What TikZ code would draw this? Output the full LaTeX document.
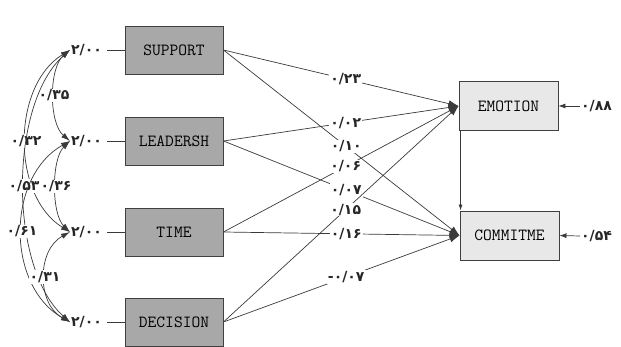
\documentclass[tikz,border=0pt]{standalone}
\usepackage{fontspec}
\usetikzlibrary{arrows.meta,calc}
\newfontfamily\fa{DejaVu Sans}
\definecolor{darkbox}{HTML}{A8A8A8}
\definecolor{lightbox}{HTML}{E8E8E8}
\definecolor{lin}{HTML}{3A3A3A}
\begin{document}
\begin{tikzpicture}[x=1pt,y=-1pt,
  obs/.style={draw=black!75, line width=0.9pt, fill=darkbox, minimum width=98pt, minimum height=48pt, inner sep=0pt, font=\ttfamily\fontsize{17}{17}\selectfont, text=black},
  endo/.style={obs, fill=lightbox, minimum width=99pt, minimum height=49pt},
  num/.style={font=\fa\bfseries\fontsize{14}{15}\selectfont, inner sep=1pt, text=black!85},
  lab/.style={num, fill=white},
  pth/.style={draw=lin, line width=0.7pt},
  tipA/.style={-{Latex[length=10pt,width=7pt]}},
  cov/.style={draw=lin, line width=0.7pt, {Latex[length=9pt,width=5.5pt]}-{Latex[length=9pt,width=5.5pt]}}
]
\useasboundingbox (0,0) rectangle (621,347);
% exogenous boxes
\node[obs] (sup) at (174,50) {SUPPORT};
\node[obs] (lea) at (174,141) {LEADERSH};
\node[obs] (tim) at (174,232) {TIME};
\node[obs] (dec) at (174,322) {DECISION};
% endogenous boxes
\node[endo] (emo) at (508.5,106) {EMOTION};
\node[endo] (com) at (509.5,235.5) {COMMITME};
% variances
\node[num, anchor=west] (v1) at (70,50) {۲/۰۰};
\node[num, anchor=west] (v2) at (70,141) {۲/۰۰};
\node[num, anchor=west] (v3) at (70,232) {۲/۰۰};
\node[num, anchor=west] (v4) at (70,322) {۲/۰۰};
\foreach \v/\b in {v1/sup, v2/lea, v3/tim, v4/dec}
  \draw[pth] ($(\v.east)+(4,0)$) -- (\b.west);
% covariances
\draw[cov] (v1.west) .. controls (48.7,68) and (48.7,123) .. node[lab]{۰/۳۵} (v2.west);
\draw[cov] (v1.west) .. controls (11.3,86) and (11.3,196) .. node[lab]{۰/۳۲} (v3.west);
\draw[cov] (v1.west) .. controls (8.7,104) and (8.7,268) .. node[lab]{۰/۵۳} (v4.west);
\draw[cov] (v2.west) .. controls (51.3,159) and (51.3,214) .. node[lab]{۰/۳۶} (v3.west);
\draw[cov] (v2.west) .. controls (6,177) and (6,286) .. node[lab]{۰/۶۱} (v4.west);
\draw[cov] (v3.west) .. controls (36.7,250) and (36.7,304) .. node[lab]{۰/۳۱} (v4.west);
% structural paths
\draw[pth, tipA] (sup.east) -- node[lab, pos=0.52]{۰/۲۳} (emo.west);
\draw[pth, tipA] (sup.east) -- node[lab, pos=0.52]{۰/۱۰} (com.west);
\draw[pth, tipA] (lea.east) -- node[lab, pos=0.52]{۰/۰۲} (emo.west);
\draw[pth, tipA] (lea.east) -- node[lab, pos=0.52]{۰/۰۷} (com.west);
\draw[pth, tipA] (tim.east) -- node[lab, pos=0.52]{۰/۰۶} (emo.west);
\draw[pth, tipA] (tim.east) -- node[lab, pos=0.52]{۰/۱۶} (com.west);
\draw[pth, tipA] (dec.east) -- node[lab, pos=0.52]{۰/۱۵} (emo.west);
\draw[pth, tipA] (dec.east) -- node[lab, pos=0.52]{-۰/۰۷} (com.west);
% emotion -> commitment
\draw[pth, -{Latex[length=6pt,width=4pt]}] ($(emo.south west)+(2,0)$) -- ($(com.north west)+(1,0)$);
% error terms
\node[num, anchor=west] (e1) at (580,106) {۰/۸۸};
\node[num, anchor=west] (e2) at (580,236) {۰/۵۴};
\draw[pth, -{Latex[length=7pt,width=5pt]}] (e1.west) -- (emo.east);
\draw[pth, -{Latex[length=7pt,width=5pt]}] (e2.west) -- (com.east);
\end{tikzpicture}
\end{document}
